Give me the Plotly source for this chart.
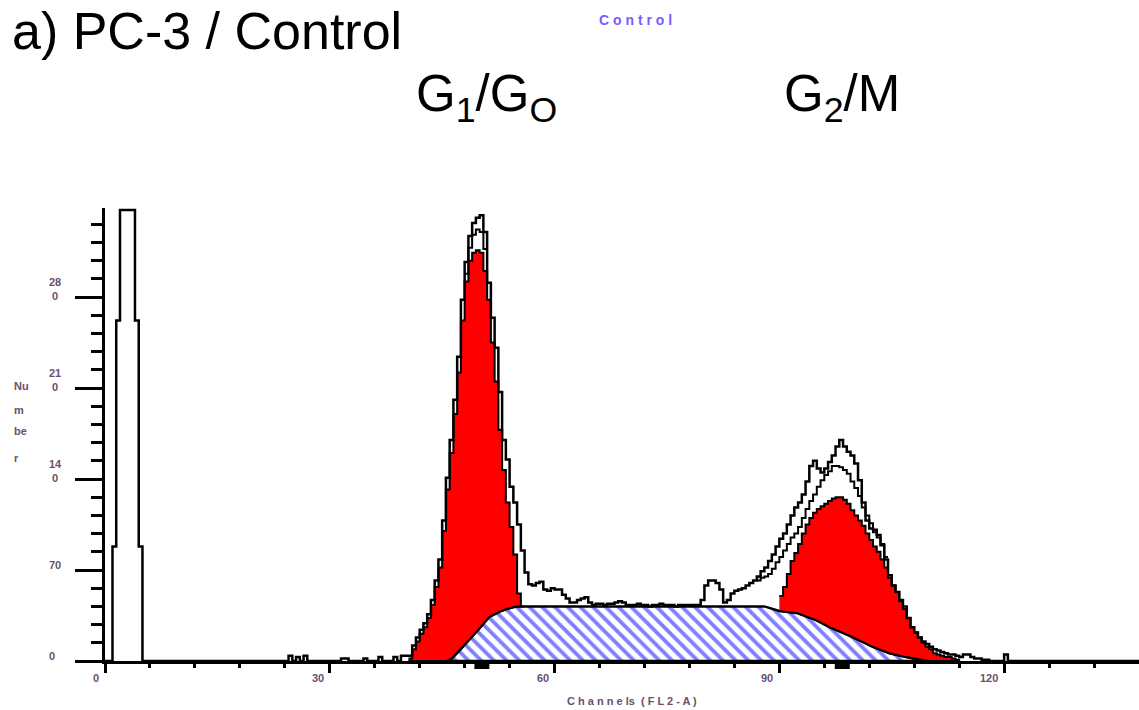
import numpy as np
import plotly.graph_objects as go

# ---------------- data ----------------
bin_width = 0.5
x_max = 138.0

# debris peak (channels 1.0 .. 5.0), top is off scale
debris_start = 1.0
debris_counts = [88, 262, 347, 347, 347, 347, 262, 88]

# stray events below the G1 peak
stray_channels = [24.5, 25.5, 26.5, 31.5, 32.0, 34.5, 36.5, 38.5, 39.5]
stray_counts = [4, 3, 4, 2, 2, 2, 3, 3, 4]

# measured histogram, channels 40.0 .. 121.0
main_start = 40.0
main_counts = [
    4, 4, 12, 18, 24, 29, 36, 47, 62, 78,
    108, 141, 170, 201, 234, 278, 307, 327, 337, 341,
    343, 330, 291, 264, 241, 207, 170, 155, 134, 122,
    105, 85, 68, 59, 58, 60, 61, 55, 54, 56,
    55, 55, 51, 48, 45, 45, 47, 48, 49, 45,
    43, 44, 44, 43, 44, 44, 45, 46, 45, 43,
    43, 43, 44, 43, 43, 42, 43, 43, 44, 43,
    43, 43, 42, 43, 43, 43, 43, 43, 43, 47,
    58, 62, 62, 60, 55, 45, 47, 52, 54, 55,
    56, 58, 60, 62, 65, 69, 72, 77, 82, 88,
    94, 98, 105, 112, 118, 122, 128, 138, 150, 154,
    148, 145, 148, 153, 158, 165, 170, 165, 161, 158,
    152, 139, 122, 108, 102, 101, 97, 89, 78, 66,
    58, 53, 47, 42, 33, 26, 22, 18, 15, 13,
    11, 9, 8, 7, 6, 5, 5, 4, 3, 5,
    5, 3, 2, 2, 1, 1, 0, 0, 0, 0,
    5, 0,
]

# S-phase model (channel, count)
s_channels = [45.6, 46.3, 47.3, 48.4, 50.0, 51.3, 52.7, 53.6, 54.9, 88.0,
              90.0, 92.3, 94.9, 96.7, 99.7, 102.4, 104.7, 106.9, 110.0]
s_counts = [0, 2, 8, 15, 25, 34, 38, 40, 42, 42,
            38.5, 37, 31.5, 26, 18.5, 11, 6, 3, 0]

# G1/G0 fit (top of red area), channels 40.5 .. 56.0
g1_start = 40.5
g1_counts = [2, 9, 15, 21, 26, 33, 43, 57, 72, 100,
             132, 160, 190, 222, 262, 292, 308, 314, 316, 314,
             300, 278, 245, 215, 178, 147, 122, 103, 82, 52, 42]

# G2/M fit (top of red area), channels 90.0 .. 114.0
g2_start = 90.0
g2_counts = [50, 57, 67, 77, 83, 90, 98, 105, 110, 114,
             117, 119, 121, 123, 125, 126, 126, 124, 121, 116,
             112, 108, 104, 98, 93, 88, 84, 78, 72, 64,
             58, 53, 46, 40, 33, 26, 22, 18, 14, 11,
             9, 6, 5, 4, 3, 3, 2, 1]

# total fit line (inner outline)
fit1_start = 48.0
fit1_counts = [298, 318, 328, 332, 330, 317]
fit2_start = 87.0
fit2_counts = [62, 64, 65, 67, 71, 76, 80, 85, 90, 95,
               98, 103, 110, 117, 123, 128, 134, 139, 143, 146,
               150, 150, 149, 147, 144, 138, 133, 127, 118, 112,
               106, 99, 95, 90, 80]

peak_channels = [50.3, 98.4]

x_ticks = [0, 30, 60, 90, 120]
y_ticks = [0, 70, 140, 210, 280]

# ---------------- build ----------------
nb = int(round(x_max / bin_width))
hist = np.zeros(nb)
def put(start, vals):
    i0 = int(round(start / bin_width))
    for k, v in enumerate(vals):
        hist[i0 + k] = v
put(debris_start, debris_counts)
for c, v in zip(stray_channels, stray_counts):
    hist[int(round(c / bin_width))] = v
put(main_start, main_counts)

edges = np.arange(nb + 1) * bin_width

def step_xy(start, vals):
    xs, ys = [], []
    for k, v in enumerate(vals):
        a = start + k * bin_width
        xs += [a, a + bin_width]
        ys += [v, v]
    return xs, ys

fig = go.Figure()

# S phase hatched
fig.add_trace(go.Scatter(
    x=s_channels + [s_channels[0]], y=s_counts + [0], mode="lines",
    fill="toself", fillcolor="white",
    fillpattern=dict(shape="\\", fgcolor="#0000ff", bgcolor="white", size=9, solidity=0.42),
    line=dict(color="black", width=2.5), hoverinfo="skip", showlegend=False))

# G1 red area
gx, gy = step_xy(g1_start, g1_counts)
sx_b = [c for c in s_channels if c < gx[-1]][::-1]
sy_b = [s_counts[s_channels.index(c)] for c in sx_b]
px = gx + sx_b + [g1_start]
py = gy + sy_b + [0]
fig.add_trace(go.Scatter(x=px, y=py, mode="lines", fill="toself", fillcolor="#ff0000",
                         line=dict(color="black", width=2), hoverinfo="skip", showlegend=False))

# G2 red area
gx, gy = step_xy(g2_start, g2_counts)
sx_b = [c for c in s_channels if c > g2_start][::-1]
sy_b = [s_counts[s_channels.index(c)] for c in sx_b]
px = gx + [gx[-1]] + sx_b + [g2_start]
py = gy + [0] + sy_b + [s_counts[s_channels.index(90.0)]]
fig.add_trace(go.Scatter(x=px, y=py, mode="lines", fill="toself", fillcolor="#ff0000",
                         line=dict(color="black", width=2), hoverinfo="skip", showlegend=False))

# inner fit lines
for st, vals in [(fit1_start, fit1_counts), (fit2_start, fit2_counts)]:
    fx, fy = step_xy(st, vals)
    fig.add_trace(go.Scatter(x=fx, y=fy, mode="lines", line=dict(color="black", width=2),
                             hoverinfo="skip", showlegend=False))

# measured histogram
fig.add_trace(go.Scatter(x=list(edges), y=list(hist) + [0], mode="lines", line_shape="hv",
                         line=dict(color="black", width=2.5), hoverinfo="skip", showlegend=False))

W, H = 1139, 710
L, R, T, B = 105, 0, 208, 49
pw, ph = W - L - R, H - T - B
def pxp(x):
    return (x - L) / pw
def pyp(y):
    return (H - B - y) / ph

# peak markers just below the axis
shapes = []
for c in peak_channels:
    shapes.append(dict(type="rect", xref="x", yref="paper", x0=c - 1.0, x1=c + 1.0,
                       y0=pyp(669), y1=pyp(664), fillcolor="black", line=dict(width=0),
                       layer="above"))
    shapes.append(dict(type="rect", xref="x", yref="paper", x0=c - 0.4, x1=c + 0.4,
                       y0=pyp(666), y1=pyp(661), fillcolor="black", line=dict(width=0),
                       layer="above"))

ann = []
lab_font = dict(family="Liberation Sans", size=11, color="#6b4f6b")
for t in y_ticks:
    s = str(t)
    if len(s) > 2:
        txt = s[:2] + "<br>" + s[2:]
        ys = 8
    else:
        txt = s
        ys = 5
    ann.append(dict(x=pxp(47), xref="paper", y=t, yref="y", xanchor="left", yanchor="middle",
                    yshift=ys, text="<b>" + txt + "</b>", showarrow=False, font=lab_font))
for t in x_ticks:
    ann.append(dict(x=t, xref="x", y=pyp(678), yref="paper", xanchor="right", yanchor="middle",
                    xshift=-4, text="<b>" + str(t) + "</b>", showarrow=False, font=lab_font))
ann.append(dict(x=pxp(632), xref="paper", y=pyp(701), yref="paper", xanchor="center", yanchor="middle",
                text="<b>C h a n n e ls &nbsp;( F L 2 - A )</b>", showarrow=False, font=lab_font))
for txt, yy in [("Nu", 386), ("m", 410), ("be", 431), ("r", 458)]:
    ann.append(dict(x=pxp(12), xref="paper", y=pyp(yy), yref="paper", xanchor="left", yanchor="middle",
                    text="<b>" + txt + "</b>", showarrow=False, font=lab_font))
ann.append(dict(x=pxp(635), xref="paper", y=pyp(20), yref="paper", xanchor="center", yanchor="middle",
                text="<b>C o n t r o l</b>", showarrow=False,
                font=dict(family="Liberation Sans", size=14, color="#7b5cff")))
ann.append(dict(x=pxp(10), xref="paper", y=pyp(31), yref="paper", xanchor="left", yanchor="middle",
                text="a) PC-3 / Control", showarrow=False,
                font=dict(family="Liberation Sans", size=52, color="black")))
ann.append(dict(x=pxp(414), xref="paper", y=pyp(97), yref="paper", xanchor="left", yanchor="middle",
                text="G<sub>1</sub>/G<sub>O</sub>", showarrow=False,
                font=dict(family="Liberation Sans", size=51, color="black")))
ann.append(dict(x=pxp(782), xref="paper", y=pyp(97), yref="paper", xanchor="left", yanchor="middle",
                text="G<sub>2</sub>/M", showarrow=False,
                font=dict(family="Liberation Sans", size=51, color="black")))

fig.update_layout(
    width=W, height=H, margin=dict(l=L, r=R, t=T, b=B),
    paper_bgcolor="white", plot_bgcolor="white",
    annotations=ann, shapes=shapes,
    xaxis=dict(range=[0, x_max], showgrid=False, zeroline=False, showline=True,
               linecolor="black", linewidth=3, ticks="outside", ticklen=9, tickwidth=2.5,
               tickcolor="black", tickmode="array", tickvals=x_ticks, showticklabels=False,
               minor=dict(tickmode="array", tickvals=list(range(0, 138, 6)), ticks="outside",
                          ticklen=4, tickwidth=2.5, tickcolor="black")),
    yaxis=dict(range=[0, 348.5], showgrid=False, zeroline=False, showline=True,
               linecolor="black", linewidth=3, ticks="outside", ticklen=27, tickwidth=3,
               tickcolor="black", tickmode="array", tickvals=y_ticks, showticklabels=False,
               minor=dict(tickmode="array", tickvals=list(range(0, 349, 14)), ticks="outside",
                          ticklen=11, tickwidth=3, tickcolor="black")),
)

fig.write_html("out.html")
